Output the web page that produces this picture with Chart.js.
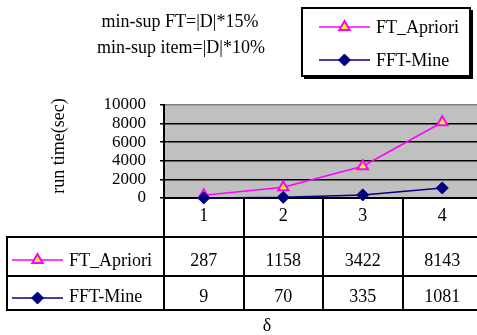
<!DOCTYPE html>
<html>
<head>
<meta charset="utf-8">
<script src="https://cdn.jsdelivr.net/npm/chart.js@4.4.1/dist/chart.umd.min.js"></script>
<style>
  html, body { margin: 0; padding: 0; background: #fff; overflow: hidden; }
  #wrap { width: 477px; height: 335px; overflow: hidden; }
  canvas { display: block; }
</style>
</head>
<body>
<div id="wrap"><canvas id="c" width="490" height="335"></canvas></div>
<script>
// Run time per δ for the two algorithms
const categories = ['1', '2', '3', '4'];
const ftApriori = [287, 1158, 3422, 8143];
const fftMine = [9, 70, 335, 1081];
const seriesNames = ['FT_Apriori', 'FFT-Mine'];
const titleLines = ['min-sup FT=|D|*15%', 'min-sup item=|D|*10%'];
const yTitle = 'run time(sec)';
const xTitle = 'δ';
const yMin = 0, yMax = 10000, yStep = 2000;

const FONT = '"Liberation Serif", "Times New Roman", serif';

const styles = [
  { line: '#FF00FF', pointStyle: 'triangle', fill: '#FFFF00', stroke: '#FF00FF', radius: 6, bw: 2 },
  { line: '#000080', pointStyle: 'rectRot', fill: '#000080', stroke: '#000080', radius: 6, bw: 1 }
];

const tablePlugin = {
  id: 'dataTable',
  beforeDraw(chart) {
    const { ctx, chartArea: a } = chart;
    ctx.save();
    ctx.fillStyle = '#fff';
    ctx.fillRect(0, 0, chart.width, chart.height);
    ctx.fillStyle = '#C0C0C0';
    ctx.fillRect(a.left, a.top, a.right - a.left, a.bottom - a.top);
    ctx.restore();
  },
  beforeDatasetsDraw(chart) {
    const { ctx, chartArea: a } = chart;
    const right = chart.width;
    const rowTop = 237, rowMid = 276, rowBot = 310, tableLeft = 7;
    const step = (a.right - a.left) / categories.length;
    ctx.save();
    ctx.strokeStyle = '#000';
    ctx.lineWidth = 2;
    ctx.beginPath();
    // horizontal rules
    ctx.moveTo(a.left, a.bottom); ctx.lineTo(right, a.bottom);
    ctx.moveTo(tableLeft, rowTop); ctx.lineTo(right, rowTop);
    ctx.moveTo(tableLeft, rowMid); ctx.lineTo(right, rowMid);
    ctx.moveTo(tableLeft, rowBot); ctx.lineTo(right, rowBot);
    // vertical rules
    ctx.moveTo(tableLeft, rowTop - 1); ctx.lineTo(tableLeft, rowBot + 1);
    ctx.moveTo(a.left, a.bottom); ctx.lineTo(a.left, rowBot + 1);
    for (let i = 1; i <= categories.length; i++) {
      const px = Math.round(a.left + i * step);
      ctx.moveTo(px, a.bottom); ctx.lineTo(px, rowBot + 1);
    }
    ctx.stroke();
    ctx.restore();
  },
  afterDraw(chart) {
    const { ctx } = chart;
    const x = chart.scales.x;
    const H = Chart.helpers;
    ctx.save();
    ctx.fillStyle = '#000';
    ctx.font = '18px ' + FONT;

    // title lines
    ctx.textAlign = 'center';
    ctx.textBaseline = 'alphabetic';
    ctx.fillText(titleLines[0], 180, 27);
    ctx.fillText(titleLines[1], 181, 53);

    // category labels and values
    const series = [ftApriori, fftMine];
    categories.forEach((c, i) => {
      const px = x.getPixelForValue(i);
      ctx.fillText(c, px, 221);
      ctx.fillText(String(series[0][i]), px, 266);
      ctx.fillText(String(series[1][i]), px, 302);
    });

    // x title
    ctx.fillText(xTitle, 267, 331);

    // y title
    ctx.save();
    ctx.translate(64, 146);
    ctx.rotate(-Math.PI / 2);
    ctx.fillText(yTitle, 0, 0);
    ctx.restore();

    // legend key helper
    const key = (s, x0, x1, y) => {
      ctx.save();
      ctx.strokeStyle = s.line;
      ctx.lineWidth = 1.5;
      ctx.beginPath();
      ctx.moveTo(x0, y); ctx.lineTo(x1, y);
      ctx.stroke();
      ctx.fillStyle = s.fill;
      ctx.strokeStyle = s.stroke;
      ctx.lineWidth = s.bw;
      H.drawPoint(ctx, { pointStyle: s.pointStyle, radius: s.radius, rotation: 0, borderWidth: s.bw }, (x0 + x1) / 2, y);
      ctx.restore();
    };

    // keys inside the table
    ctx.textAlign = 'left';
    key(styles[0], 12, 63, 260);
    key(styles[1], 12, 63, 298);
    ctx.fillStyle = '#000';
    ctx.fillText(seriesNames[0], 69, 266);
    ctx.fillText(seriesNames[1], 69, 302);

    // legend box
    ctx.fillStyle = '#000';
    ctx.fillRect(304, 10, 169, 69);
    ctx.fillStyle = '#fff';
    ctx.fillRect(302, 8, 168, 68);
    ctx.strokeStyle = '#000';
    ctx.lineWidth = 2;
    ctx.strokeRect(302, 8, 168, 68);
    key(styles[0], 319, 370, 27);
    key(styles[1], 319, 370, 60);
    ctx.fillStyle = '#000';
    ctx.fillText(seriesNames[0], 376, 33);
    ctx.fillText(seriesNames[1], 376, 66);
    ctx.restore();
  }
};

const datasets = [ftApriori, fftMine].map((d, i) => ({
  label: seriesNames[i],
  data: d,
  borderColor: styles[i].line,
  borderWidth: 1.5,
  pointStyle: styles[i].pointStyle,
  pointRadius: styles[i].radius,
  pointHoverRadius: styles[i].radius,
  pointBackgroundColor: styles[i].fill,
  pointBorderColor: styles[i].stroke,
  pointBorderWidth: styles[i].bw,
  tension: 0,
  clip: false,
  order: 1 - i
}));

new Chart(document.getElementById('c'), {
  type: 'line',
  data: { labels: categories, datasets },
  options: {
    responsive: false,
    animation: false,
    devicePixelRatio: 1,
    layout: { padding: { left: 0, right: 7, top: 105, bottom: 137 } },
    plugins: { legend: { display: false }, tooltip: { enabled: false }, title: { display: false } },
    scales: {
      x: { type: 'category', display: false, offset: true },
      y: {
        min: yMin, max: yMax,
        afterFit(s) { s.width = 164; },
        ticks: {
          stepSize: yStep,
          autoSkip: false,
          color: '#000',
          padding: 14,
          callback: v => String(v),
          font: { family: FONT, size: 17, lineHeight: 1 }
        },
        grid: {
          color: c => (c.tick && c.tick.value === yMax ? '#808080' : '#000'),
          lineWidth: 1.5,
          tickLength: 4,
          tickColor: '#000'
        },
        border: { display: true, color: '#000', width: 2 }
      }
    }
  },
  plugins: [tablePlugin]
});
</script>
</body>
</html>
